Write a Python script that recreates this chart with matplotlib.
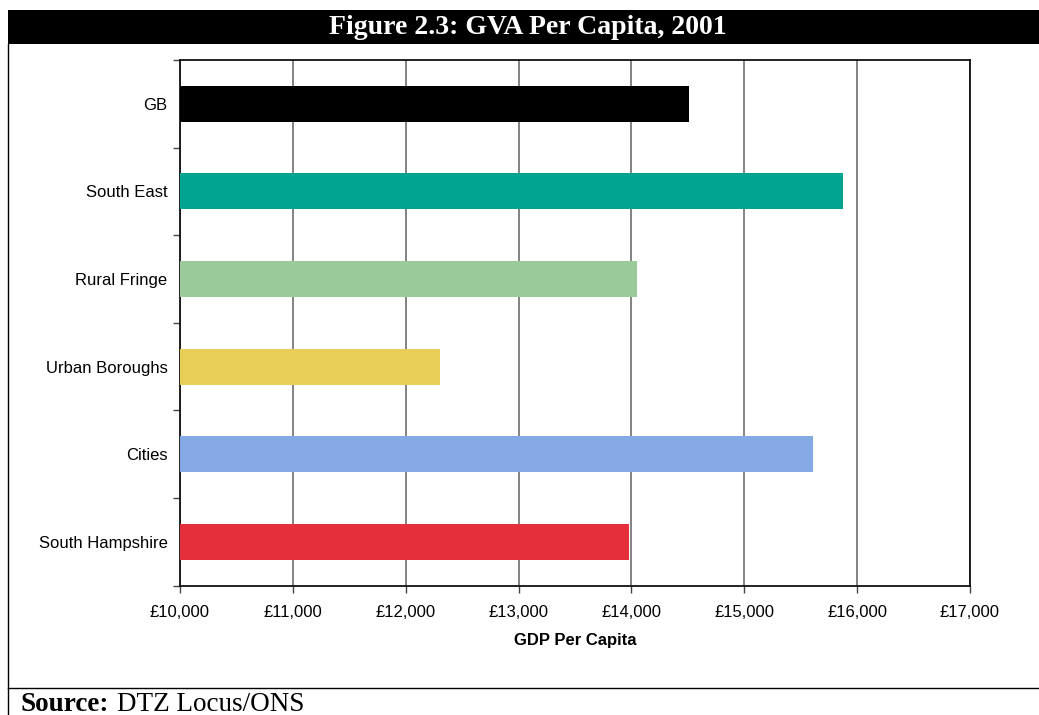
import matplotlib
matplotlib.use('Agg')
import matplotlib.pyplot as plt
from matplotlib.patches import Rectangle
from matplotlib.lines import Line2D
from matplotlib.ticker import FuncFormatter

regions = ['GB', 'South East', 'Rural Fringe', 'Urban Boroughs', 'Cities', 'South Hampshire']
gva = [14510, 15873, 14050, 12307, 15608, 13980]
colors = ['#000000', '#00A491', '#9BCA9A', '#E7CF57', '#85A9E5', '#E5303C']
xticks = [10000, 11000, 12000, 13000, 14000, 15000, 16000, 17000]

W, H = 1039, 715
fig = plt.figure(figsize=(W / 100, H / 100), dpi=100)

# title bar and frame
fig.patches.append(Rectangle((8 / W, 1 - 44 / H), 1 - 8 / W, 34 / H, transform=fig.transFigure,
                             facecolor='black', edgecolor='none'))
fig.text(528 / W, 1 - 28 / H, 'Figure 2.3: GVA Per Capita, 2001', color='white', fontsize=20,
         fontweight='bold', family='Liberation Serif', ha='center', va='center')
fig.lines.append(Line2D([8 / W, 8 / W], [0, 1 - 44 / H], transform=fig.transFigure, color='black', lw=1))
fig.lines.append(Line2D([8 / W, 1], [1 - 688 / H, 1 - 688 / H], transform=fig.transFigure, color='black', lw=1))
fig.text(21 / W, 1 - 711 / H, 'Source:', fontsize=19.5, fontweight='bold', family='Liberation Serif',
         ha='left', va='baseline')
fig.text(117 / W, 1 - 711 / H, 'DTZ Locus/ONS', fontsize=19.5, family='Liberation Serif',
         ha='left', va='baseline')

ax = fig.add_axes([180 / W, 1 - 585.7 / H, 790 / W, 525.7 / H])
y = range(len(regions))
ax.barh(y, [v - xticks[0] for v in gva], left=xticks[0], height=0.41, color=colors, zorder=3)
ax.set_xlim(xticks[0], xticks[-1])
ax.set_ylim(len(regions) - 0.5, -0.5)

ax.set_xticks(xticks)
ax.xaxis.set_major_formatter(FuncFormatter(lambda v, p: '£{:,.0f}'.format(v)))
ax.set_yticks(list(y))
ax.set_yticklabels(regions)
ax.set_yticks([i - 0.5 for i in range(len(regions) + 1)], minor=True)
ax.tick_params(axis='y', which='major', length=0, pad=9, labelsize=12)
ax.tick_params(axis='y', which='minor', length=5, width=1, color='#444444')
ax.tick_params(axis='x', length=5, width=1, color='#444444', pad=9, labelsize=12)
for lab in ax.get_xticklabels() + ax.get_yticklabels():
    lab.set_family('Liberation Sans')

ax.xaxis.grid(True, color='#6e6e6e', lw=1.2, zorder=0)
for s in ax.spines.values():
    s.set_color('#111111')
    s.set_linewidth(1.3)

ax.set_xlabel('GDP Per Capita', fontsize=12, fontweight='bold', family='Liberation Sans', labelpad=9)

plt.savefig('out.png', dpi=100)
